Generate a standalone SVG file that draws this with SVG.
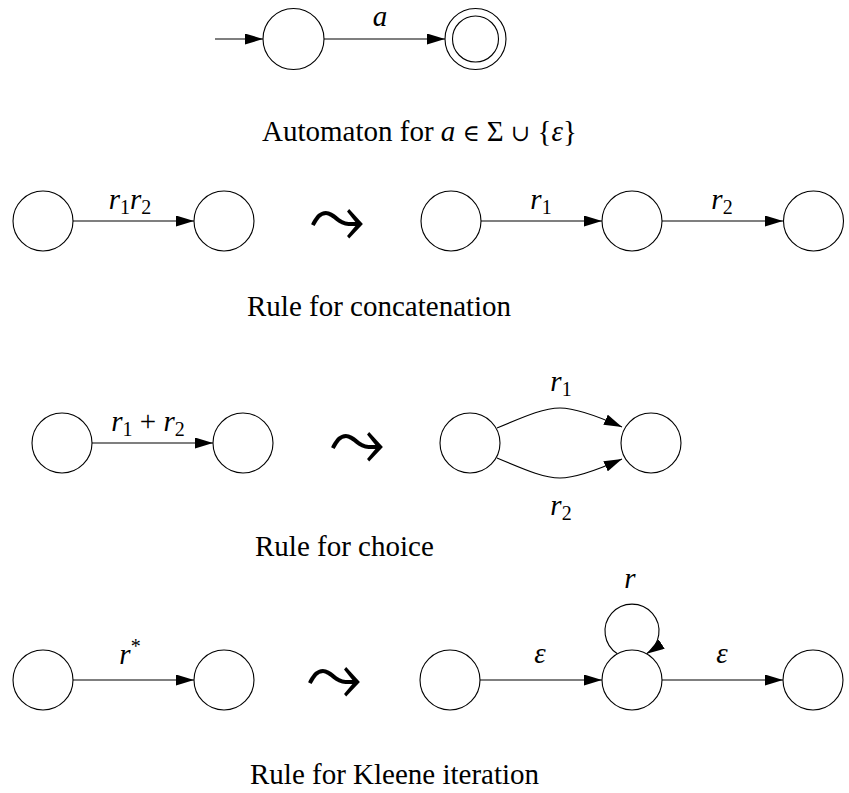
<svg xmlns="http://www.w3.org/2000/svg" width="849" height="793" viewBox="0 0 849 793">
<style>
.st{fill:#fff;stroke:#000;stroke-width:1.1}
.ed{fill:none;stroke:#000;stroke-width:1.1}
.cap{font-family:'Liberation Serif','DejaVu Serif',serif;font-size:29px;fill:#000}
.lb{font-family:'Liberation Serif','DejaVu Serif',serif;font-size:29px;fill:#000}
.it{font-style:italic}
.sub{font-size:20px}
.sym{font-family:'DejaVu Serif',serif;font-size:23px}
.sq{font-family:'DejaVu Sans',sans-serif;font-size:70px;fill:#000}
</style>
<defs>
<marker id="ah" markerUnits="userSpaceOnUse" markerWidth="18" markerHeight="11" refX="18" refY="5.5" orient="auto">
<path d="M0,0 L18,5.5 L0,11 z" fill="#000"/>
</marker>
</defs>
<g id="connectors">
<line class="ed" x1="215" y1="39" x2="263" y2="39" marker-end="url(#ah)"/>
<line class="ed" x1="324" y1="39" x2="445" y2="39" marker-end="url(#ah)"/>
<line class="ed" x1="73" y1="221" x2="194" y2="221" marker-end="url(#ah)"/>
<line class="ed" x1="481" y1="221" x2="602" y2="221" marker-end="url(#ah)"/>
<line class="ed" x1="662" y1="221" x2="783" y2="221" marker-end="url(#ah)"/>
<line class="ed" x1="92" y1="443" x2="213" y2="443" marker-end="url(#ah)"/>
<path class="ed" d="M497,428 C530,414 545,408 560,408 C575,408 595,415 622,427" marker-end="url(#ah)"/>
<path class="ed" d="M497,458 C530,472 545,478 560,478 C575,478 595,471 622,459" marker-end="url(#ah)"/>
<line class="ed" x1="73" y1="680" x2="194" y2="680" marker-end="url(#ah)"/>
<line class="ed" x1="480" y1="680" x2="602" y2="680" marker-end="url(#ah)"/>
<line class="ed" x1="662" y1="680" x2="783" y2="680" marker-end="url(#ah)"/>
<path class="ed" d="M617.4,653.8 A27,27 0 1 1 646.6,653.8" marker-end="url(#ah)"/>
</g>
<g id="n_top_start"><circle class="st" cx="293.5" cy="39" r="30.5"/></g>
<g id="n_top_final"><circle class="st" cx="475.5" cy="39" r="30.5"/><circle class="st" cx="475.5" cy="39" r="23"/></g>
<g id="n_c1"><circle class="st" cx="43" cy="221" r="30"/></g>
<g id="n_c2"><circle class="st" cx="224" cy="221" r="30"/></g>
<g id="n_c3"><circle class="st" cx="451" cy="221" r="30"/></g>
<g id="n_c4"><circle class="st" cx="632" cy="221" r="30"/></g>
<g id="n_c5"><circle class="st" cx="813.5" cy="221" r="30"/></g>
<g id="n_h1"><circle class="st" cx="62" cy="443" r="30"/></g>
<g id="n_h2"><circle class="st" cx="243" cy="443" r="30"/></g>
<g id="n_h3"><circle class="st" cx="470" cy="443" r="30"/></g>
<g id="n_h4"><circle class="st" cx="651" cy="443" r="30"/></g>
<g id="n_k1"><circle class="st" cx="43" cy="680" r="30"/></g>
<g id="n_k2"><circle class="st" cx="224" cy="680" r="30"/></g>
<g id="n_k3"><circle class="st" cx="450" cy="680" r="30"/></g>
<g id="n_k4"><circle class="st" cx="632" cy="680" r="30"/></g>
<g id="n_k5"><circle class="st" cx="813" cy="680" r="30"/></g>
<g id="labels">
<text class="lb it" x="380" y="26" text-anchor="middle">a</text>
<text class="lb" x="130" y="209" text-anchor="middle"><tspan class="it">r</tspan><tspan class="sub" dy="5">1</tspan><tspan class="it" dy="-5">r</tspan><tspan class="sub" dy="5">2</tspan></text>
<text class="lb" x="541" y="209" text-anchor="middle"><tspan class="it">r</tspan><tspan class="sub" dy="5">1</tspan></text>
<text class="lb" x="722" y="209" text-anchor="middle"><tspan class="it">r</tspan><tspan class="sub" dy="5">2</tspan></text>
<text class="lb" x="148" y="431" text-anchor="middle"><tspan class="it">r</tspan><tspan class="sub" dy="5">1</tspan><tspan dy="-5"> + </tspan><tspan class="it">r</tspan><tspan class="sub" dy="5">2</tspan></text>
<text class="lb" x="561" y="391" text-anchor="middle"><tspan class="it">r</tspan><tspan class="sub" dy="5">1</tspan></text>
<text class="lb" x="561" y="515" text-anchor="middle"><tspan class="it">r</tspan><tspan class="sub" dy="5">2</tspan></text>
<text class="lb" x="130" y="664" text-anchor="middle"><tspan class="it">r</tspan><tspan class="sub" dy="-11">*</tspan></text>
<text class="lb it" x="540" y="663" text-anchor="middle">ε</text>
<text class="lb it" x="722" y="663" text-anchor="middle">ε</text>
<text class="lb it" x="630" y="588" text-anchor="middle">r</text>
</g>
<g id="leadsto">
<text class="sq" x="337" y="242" text-anchor="middle">⤳</text>
<text class="sq" x="357" y="465" text-anchor="middle">⤳</text>
<text class="sq" x="334" y="700" text-anchor="middle">⤳</text>
</g>
<g id="captions">
<text class="cap" x="262" y="141">Automaton for <tspan class="it">a</tspan> <tspan class="sym">∈</tspan> Σ <tspan class="sym">∪</tspan> {<tspan class="it">ε</tspan>}</text>
<text class="cap" x="247" y="316">Rule for concatenation</text>
<text class="cap" x="255" y="556">Rule for choice</text>
<text class="cap" x="250" y="784">Rule for Kleene iteration</text>
</g>
</svg>
